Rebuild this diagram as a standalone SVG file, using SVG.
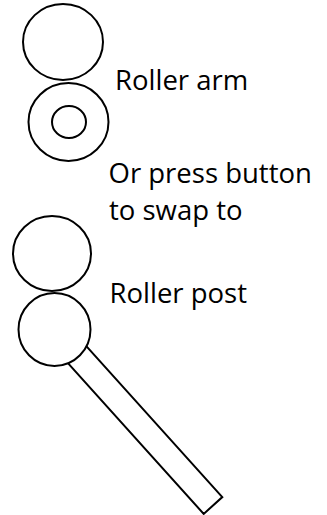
<svg xmlns="http://www.w3.org/2000/svg" width="327" height="515" viewBox="0 0 327 515">
<style>
.s{fill:#fff;stroke:#000;stroke-width:2}
.t{font-family:"Open Sans","Liberation Sans",sans-serif;font-size:27.5px;fill:#000}
</style>
<rect width="327" height="515" fill="#fff"/>
<g id="roller-arm">
<ellipse class="s" cx="63" cy="42" rx="40" ry="38"/>
<ellipse class="s" cx="68.5" cy="122" rx="40" ry="39"/>
<ellipse class="s" cx="69" cy="122" rx="17" ry="16"/>
</g>
<g id="roller-post">
<polygon class="s" points="63.8,321.1 222.3,497.1 203.7,513.9 45.2,337.9"/>
<ellipse class="s" cx="52" cy="253.5" rx="39" ry="37.5"/>
<ellipse class="s" cx="54.5" cy="329.5" rx="36" ry="36.5"/>
</g>
<g id="labels">
<text class="t" x="115" y="89.5">Roller arm</text>
<text class="t" x="108.5" y="183">Or press button</text>
<text class="t" x="109" y="220">to swap to</text>
<text class="t" x="109.5" y="303">Roller post</text>
</g>
</svg>
